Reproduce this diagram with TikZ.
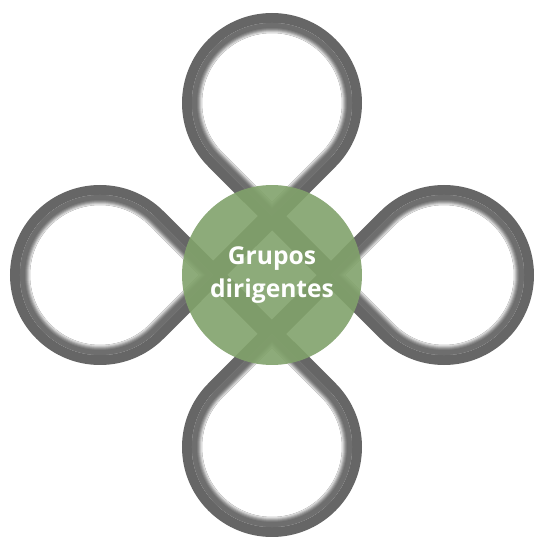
\documentclass[tikz,border=0pt]{standalone}
\usepackage{fontspec}
\setmainfont{Open Sans}
\definecolor{leafgreen}{RGB}{129,162,107}
\definecolor{tubegray}{RGB}{102,102,102}
\tikzset{
    tube/.style={line width=0.4cm, tubegray},
    hub/.style={circle, fill=leafgreen, fill opacity=0.9, text opacity=1, text=white,
        minimum size=3.6cm, inner sep=0pt, align=center,
        font=\bfseries\fontsize{14}{18.7}\selectfont}
}

\begin{document}
\begin{tikzpicture}[x=0.02cm, y=0.02cm]
    \useasboundingbox (-272,-262) rectangle (264,275);

    % four loops, one per quarter turn
    \foreach \ang in {0,90,180,270} {
        \begin{scope}[rotate=\ang]
            \draw[tube] (-58.9,0) -- (56.57,115.43) arc[start angle=-45, end angle=225, radius=80] -- (0,58.9);
            % lighter inner edge
            \begin{scope}
                \clip (0,58.9) -- (56.57,115.43) arc[start angle=-45, end angle=225, radius=80] -- cycle;
                \foreach \w/\shade in {20/12, 18/22, 16/33, 14/43, 12/51, 10/57} {
                    \draw[line width=\w*0.02cm, black!\shade] (0,58.9) -- (56.57,115.43) arc[start angle=-45, end angle=225, radius=80] -- cycle;
                }
            \end{scope}
        \end{scope}
    }

    % centre
    \node[hub] (groups) at (0,0) {Grupos\\dirigentes};
\end{tikzpicture}
\end{document}
